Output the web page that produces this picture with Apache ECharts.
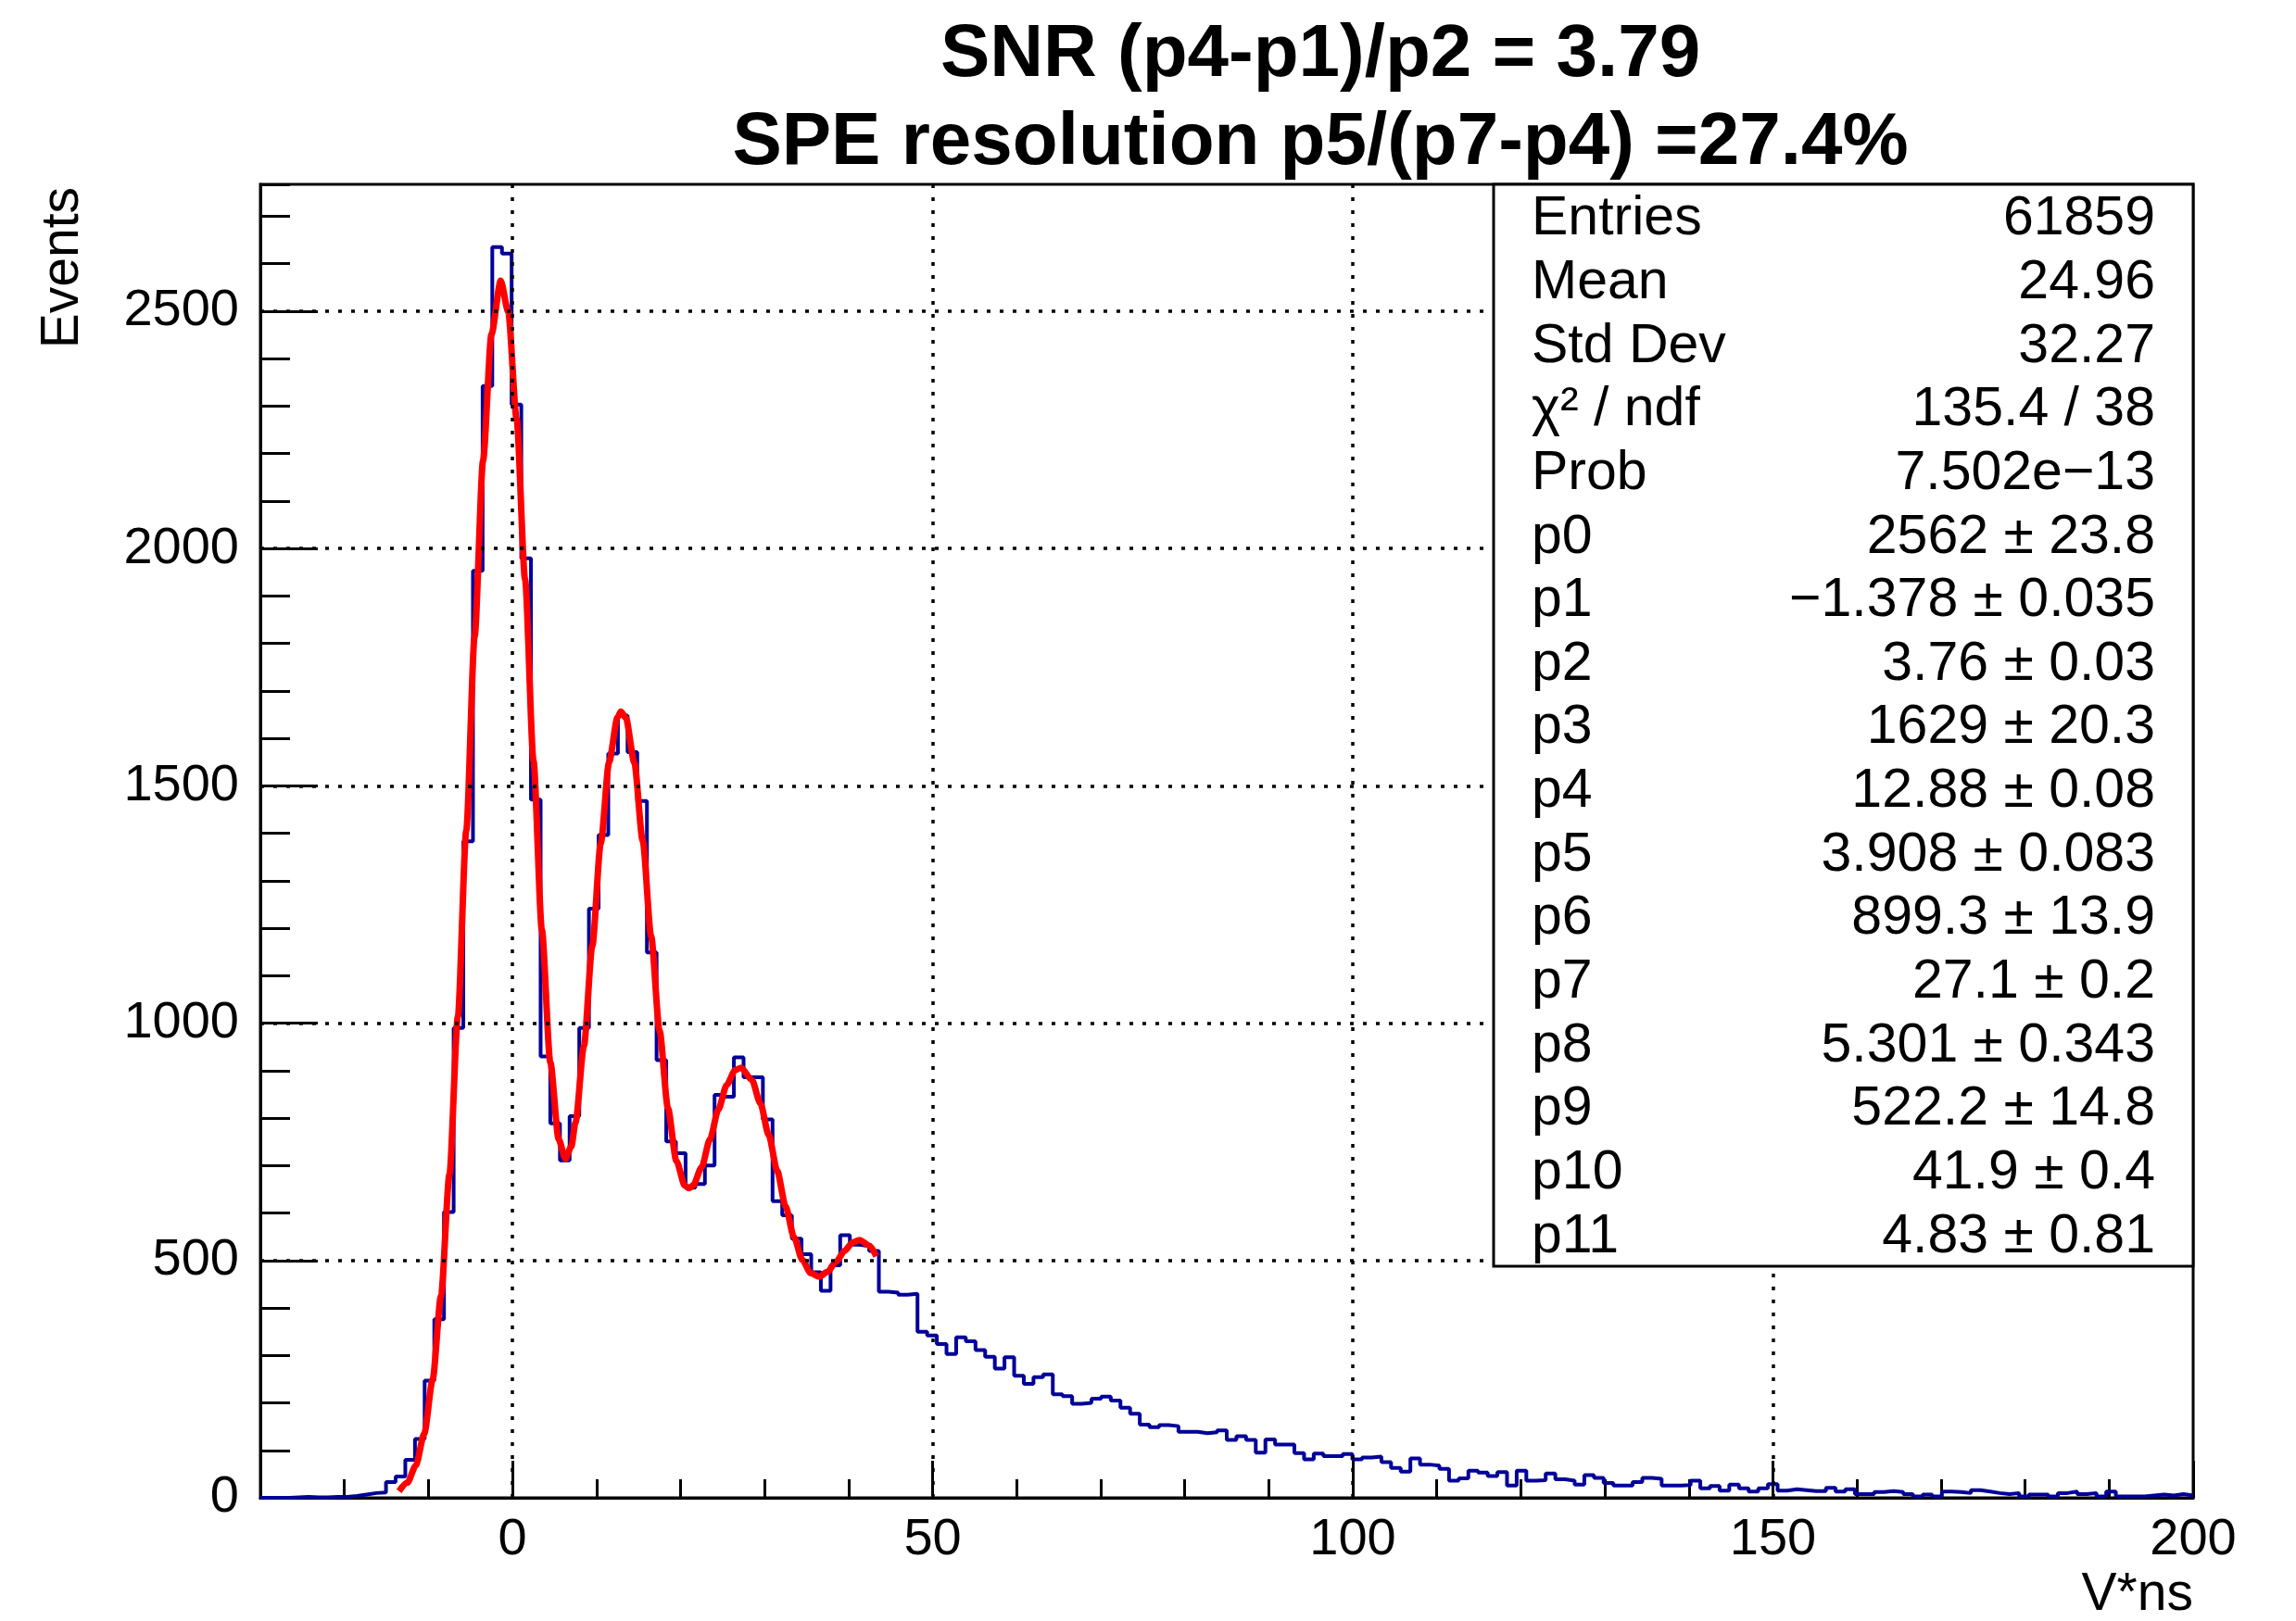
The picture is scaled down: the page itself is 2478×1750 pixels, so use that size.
<!DOCTYPE html>
<html>
<head>
<meta charset="utf-8">
<script src="https://cdn.jsdelivr.net/npm/echarts@6.0.0/dist/echarts.min.js"></script>
<style>
body { margin: 0; background: #fff; }
#main { width: 2478px; height: 1750px; }
</style>
</head>
<body>
<div id="main"></div>
<script type="text/javascript">
// histogram: 200 bins from -30 to 200
var binLow = -30;
var binWidth = 1.15;
var counts = [
    0, 0, 0, 1, 2, 1, 1, 2, 2, 4,
    7, 10, 11, 33, 45, 80, 124, 247, 376, 602,
    990, 1383, 1953, 2342, 2635, 2621, 2303, 1979, 1471, 930,
    789, 711, 804, 990, 1241, 1396, 1568, 1648, 1571, 1468,
    1149, 922, 751, 726, 653, 661, 700, 849, 845, 928,
    886, 886, 797, 625, 595, 546, 513, 475, 436, 490,
    553, 533, 530, 520, 434, 432, 428, 430, 350, 342,
    324, 303, 338, 330, 311, 297, 272, 296, 257, 240,
    254, 260, 218, 214, 198, 200, 209, 213, 205, 190,
    177, 154, 149, 153, 151, 139, 139, 136, 138, 142,
    122, 130, 122, 95, 123, 112, 112, 94, 81, 93,
    88, 88, 92, 81, 85, 87, 75, 63, 55, 83,
    70, 68, 61, 36, 41, 57, 53, 46, 54, 26,
    57, 36, 37, 51, 39, 36, 28, 48, 42, 31,
    26, 26, 33, 42, 40, 26, 26, 27, 36, 20,
    25, 15, 28, 20, 13, 20, 29, 15, 18, 16,
    14, 14, 21, 13, 18, 8, 8, 12, 14, 12,
    8, 3, 7, 3, 13, 12, 10, 16, 13, 10,
    8, 10, 3, 7, 7, 3, 10, 13, 8, 10,
    3, 13, 3, 3, 3, 5, 7, 5, 8, 5
];

// fit curve, points
var fitX = [-13.5, -12.5, -11.5, -10.5, -9.5, -8.5, -7.5, -6.5, -5.5, -4.5, -3.5, -2.5, -1.4, -0.5,
    0.5, 1.5, 2.5, 3.5, 4.5, 5.5, 6.3, 7, 7.5, 8.5, 9.5, 10.5, 11.5, 12.5, 12.9, 13.5, 14.5, 15.5,
    16.5, 17.5, 18.5, 19.5, 20.5, 21, 21.5, 22.5, 23.5, 24.5, 25.5, 26.5, 27.2, 28.5, 29.5, 30.5,
    31.5, 32.5, 33.5, 34.5, 35.5, 36.5, 37.5, 38.5, 39.5, 40.5, 41.3, 42.5, 43.3];
var fitY = [14, 32, 68, 135, 249, 426, 681, 1013, 1405, 1815, 2185, 2451, 2564, 2498,
    2272, 1935, 1553, 1196, 918, 755, 714, 740, 790, 952, 1163, 1378, 1550, 1644, 1656, 1643, 1549, 1384,
    1183, 985, 821, 710, 658, 652, 658, 696, 755, 818, 870, 901, 906, 880, 831, 764,
    689, 614, 549, 501, 473, 466, 476, 497, 520, 538, 543, 531, 509];

var xMajor = [0, 50, 100, 150, 200];
var yMajor = [0, 500, 1000, 1500, 2000, 2500];
var xGrid = [0, 50, 100, 150];
var yGrid = [500, 1000, 1500, 2000, 2500];

var titleLines = ['SNR (p4-p1)/p2 = 3.79', 'SPE resolution p5/(p7-p4) =27.4%'];
var xTitle = 'V*ns';
var yTitle = 'Events';

var statNames = ['Entries', 'Mean', 'Std Dev', 'χ² / ndf', 'Prob',
    'p0', 'p1', 'p2', 'p3', 'p4', 'p5', 'p6', 'p7', 'p8', 'p9', 'p10', 'p11'];
var statValues = ['61859', '24.96', '32.27', '135.4 / 38', '7.502e−13',
    '2562 ± 23.8', '−1.378 ± 0.035', '3.76 ± 0.03', '1629 ± 20.3', '12.88 ± 0.08',
    '3.908 ± 0.083', '899.3 ± 13.9', '27.1 ± 0.2', '5.301 ± 0.343', '522.2 ± 14.8',
    '41.9 ± 0.4', '4.83 ± 0.81'];

var FONT = '"Liberation Sans", Arial, Helvetica, sans-serif';

var chart = echarts.init(document.getElementById('main'));

// step outline: one point per bin low edge, plus the last high edge
var histData = counts.map(function (c, i) {
    return [binLow + i * binWidth, c];
});
histData.push([binLow + counts.length * binWidth, counts[counts.length - 1]]);

var fitData = fitX.map(function (x, i) {
    return [x, fitY[i]];
});

var gridLines = xGrid.map(function (v) { return { xAxis: v }; })
    .concat(yGrid.map(function (v) { return { yAxis: v }; }));

var graphics = [
    {
        type: 'text', x: 1425, y: 60, z: 100,
        style: { text: titleLines[0], fontSize: 80, fontWeight: 'bold', fontFamily: FONT,
            fill: '#000', align: 'center', verticalAlign: 'middle' }
    },
    {
        type: 'text', x: 1425, y: 155, z: 100,
        style: { text: titleLines[1], fontSize: 80, fontWeight: 'bold', fontFamily: FONT,
            fill: '#000', align: 'center', verticalAlign: 'middle' }
    },
    {
        type: 'text', x: 2367, y: 1722, z: 100,
        style: { text: xTitle, fontSize: 57, fontFamily: FONT, fill: '#000',
            align: 'right', verticalAlign: 'middle' }
    },
    {
        type: 'text', x: 68, y: 202, z: 100, rotation: Math.PI / 2,
        style: { text: yTitle, fontSize: 57, fontFamily: FONT, fill: '#000',
            align: 'right', verticalAlign: 'middle' }
    },
    {
        // stats box
        type: 'rect', z: 100,
        shape: { x: 1612, y: 199, width: 755, height: 1168 },
        style: { fill: '#fff', stroke: '#000', lineWidth: 3 }
    }
];

for (var i = 0; i < statNames.length; i++) {
    var ty = 237 + i * 68.65;
    graphics.push({
        type: 'text', x: 1653, y: ty, z: 101,
        style: { text: statNames[i], fontSize: 59, fontFamily: FONT, fill: '#000',
            align: 'left', verticalAlign: 'middle' }
    });
    graphics.push({
        type: 'text', x: 2326, y: ty, z: 101,
        style: { text: statValues[i], fontSize: 59, fontFamily: FONT, fill: '#000',
            align: 'right', verticalAlign: 'middle' }
    });
}

var option = {
    backgroundColor: '#fff',
    animation: false,
    grid: {
        left: 281,
        top: 199,
        width: 2086,
        height: 1418,
        show: true,
        borderColor: '#000',
        borderWidth: 3,
        backgroundColor: 'transparent'
    },
    xAxis: [
        {
            type: 'value',
            min: -30,
            max: 200,
            interval: 10,
            position: 'bottom',
            axisLine: { show: true, onZero: false, lineStyle: { color: '#000', width: 3 } },
            axisTick: { show: true, inside: true, length: 20, lineStyle: { color: '#000', width: 3 } },
            axisLabel: {
                fontSize: 56, fontFamily: FONT, color: '#000', margin: 18,
                formatter: function (v) { return v % 50 === 0 ? String(v) : ''; }
            },
            splitLine: { show: false }
        },
        {
            // long ticks at the labelled values
            type: 'value',
            min: -30,
            max: 200,
            position: 'bottom',
            axisLine: { show: false, onZero: false },
            axisTick: { show: true, inside: true, length: 40, customValues: xMajor,
                lineStyle: { color: '#000', width: 3 } },
            axisLabel: { show: false },
            splitLine: { show: false }
        }
    ],
    yAxis: [
        {
            type: 'value',
            min: 0,
            max: 2767,
            interval: 100,
            position: 'left',
            axisLine: { show: true, onZero: false, lineStyle: { color: '#000', width: 3 } },
            axisTick: { show: true, inside: true, length: 32, lineStyle: { color: '#000', width: 3 } },
            axisLabel: {
                fontSize: 56, fontFamily: FONT, color: '#000', margin: 23,
                formatter: function (v) { return v % 500 === 0 ? String(v) : ''; }
            },
            splitLine: { show: false }
        },
        {
            type: 'value',
            min: 0,
            max: 2767,
            position: 'left',
            axisLine: { show: false, onZero: false },
            axisTick: { show: true, inside: true, length: 62, customValues: yMajor,
                lineStyle: { color: '#000', width: 3 } },
            axisLabel: { show: false },
            splitLine: { show: false }
        }
    ],
    series: [
        {
            name: 'hist',
            type: 'line',
            xAxisIndex: 0,
            yAxisIndex: 0,
            data: histData,
            step: 'end',
            showSymbol: false,
            lineStyle: { color: '#000099', width: 4 },
            markLine: {
                silent: true,
                symbol: 'none',
                label: { show: false },
                lineStyle: { color: '#000', type: [4, 10], width: 3.5 },
                data: gridLines
            },
            z: 2
        },
        {
            name: 'fit',
            type: 'line',
            xAxisIndex: 0,
            yAxisIndex: 0,
            data: fitData,
            smooth: 0.25,
            smoothMonotone: 'x',
            showSymbol: false,
            lineStyle: { color: '#ff0000', width: 7 },
            z: 3
        }
    ],
    graphic: graphics
};

chart.setOption(option);
</script>
</body>
</html>
